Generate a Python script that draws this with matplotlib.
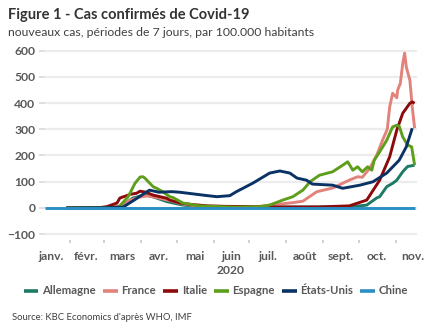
import matplotlib
matplotlib.use("Agg")
import matplotlib.pyplot as plt
import numpy as np

plt.rcParams['font.family'] = ['Lato', 'DejaVu Sans']

# day of year 2020 (0 = 1 Jan) and new cases per 100.000 (7 days)
allemagne_d = [28, 73, 81.5, 84, 90, 96, 102.5, 112.6, 126, 140, 216, 266, 280.7, 289, 291.6, 297.5, 302.5, 306, 311, 315, 321]
allemagne_v = [0, 2, 30, 38, 45, 48, 40, 24, 11, 5, 3, 4, 11, 38, 43, 81, 94, 106, 138, 158, 163]

france_d = [28, 60, 73, 82, 90, 96, 104, 115, 126, 140, 151, 170, 190, 207.6, 218, 227, 238.7, 252, 266, 273, 277, 283,
            289, 294, 298, 300, 302.5, 306, 306.7, 309, 311, 312.6, 314, 317, 319, 321]
france_v = [0, 1, 8, 30, 42, 46, 40, 28, 15, 7, 8, 4, 6, 15, 20, 26, 62, 76, 106, 119, 117, 150,
            200, 258, 300, 385, 437, 420, 449, 475, 551, 590, 537, 487, 385, 304]

italie_d = [28, 55, 62, 70.6, 73, 80, 81.5, 87, 90, 95, 101, 112.6, 115, 123.5, 132, 149, 200, 240, 266, 280.7, 291.6,
            300, 306, 311, 317, 319, 321]
italie_v = [0, 1, 5, 19, 38, 49, 52, 56, 64, 60, 49, 37, 30, 19, 14, 7, 4, 4, 8, 30, 106, 195, 297, 361, 399, 404, 399]

espagne_d = [28, 70, 73, 80, 85.7, 90, 92.4, 94, 101, 104, 109, 115, 117.6, 126, 140, 170, 191, 199, 210, 218.5, 227,
             233, 241, 252, 260.5, 264.7, 269, 273, 277, 281.5, 285, 287, 291.6, 297.5, 302.5, 306, 308, 311, 315,
             318.5, 321]
espagne_v = [0, 2, 8, 43, 94, 118, 119, 114, 81, 75, 62, 43, 40, 19, 8, 3, 5, 11, 30, 43, 68,
             100, 125, 138, 163, 176, 144, 157, 138, 157, 144, 182, 214, 258, 309, 315, 312, 271, 240,
             233, 163]

etats_unis_d = [28, 60, 75.6, 85, 95.8, 98, 106, 115, 117.6, 123.5, 143, 154.6, 165.5, 171, 185, 199, 207.6, 216, 222,
                230, 235, 252, 260.5, 275, 286, 297.5, 308, 314, 319]
etats_unis_v = [0, 1, 3, 30, 62, 68, 60, 62, 62, 60, 49, 43, 47, 62, 95, 133, 141, 133, 114,
                106, 91, 87, 75, 87, 100, 133, 182, 233, 304]

chine_d = [10, 321]
chine_v = [0, 0]

series = [
    ('Allemagne', allemagne_d, allemagne_v, '#1d7a64'),
    ('France', france_d, france_v, '#e2837b'),
    ('Italie', italie_d, italie_v, '#8c0a0a'),
    ('Espagne', espagne_d, espagne_v, '#5e9e1c'),
    ('États-Unis', etats_unis_d, etats_unis_v, '#0b3264'),
    ('Chine', chine_d, chine_v, '#2a8fc3'),
]

month_starts = [31, 60, 91, 121, 152, 182, 213, 244, 274, 305]
month_mids = [15.5, 45, 75.5, 106, 136.5, 167, 197.5, 228.5, 259, 289.5, 319.5]
month_labels = ['janv.', 'févr.', 'mars', 'avr.', 'mai', 'juin', 'juil.', 'août', 'sept.', 'oct.', 'nov.']

grey = '#595959'

fig = plt.figure(figsize=(4.32, 3.34), dpi=100)
ax = fig.add_axes([45 / 432, 1 - 240 / 334, 372 / 432, 190 / 334])

for name, d, v, c in series:
    ax.plot(d, v, color=c, lw=2.1, label=name, solid_capstyle='butt')

ax.set_xlim(10, 323)
ax.set_ylim(-122, 602)
ax.set_yticks([-100, 0, 100, 200, 300, 400, 500, 600])
ax.grid(axis='y', color='#ececec', lw=1.6)
ax.set_axisbelow(True)
for s in ax.spines.values():
    s.set_visible(False)

ax.tick_params(axis='y', length=4, width=1.2, color='#d9d9d9', pad=3,
               labelsize=8.7, labelcolor=grey)
for t in ax.get_yticklabels():
    t.set_fontweight('bold')

ax.set_xticks(month_starts, minor=True)
ax.set_xticks(month_mids)
ax.set_xticklabels(month_labels, fontsize=8.7, fontweight='bold', color=grey)
ax.tick_params(axis='x', which='major', length=0, pad=8)
ax.tick_params(axis='x', which='minor', length=2, width=1.2, color='#c8c8c8', direction='out')
ax.set_xlabel('2020', fontsize=8.7, fontweight='bold', color=grey, labelpad=2)

fig.text(8 / 432, 1 - 15 / 334, 'Figure 1 - Cas confirmés de Covid-19', fontsize=10.5,
         fontweight='bold', color='#333333', va='center', ha='left')
fig.text(8 / 432, 1 - 32 / 334, 'nouveaux cas, périodes de 7 jours, par 100.000 habitants',
         fontsize=8.8, color='#404040', va='center', ha='left')
fig.text(12 / 432, 1 - 317 / 334, "Source: KBC Economics d'après WHO, IMF", fontsize=6.8,
         color='#404040', va='center', ha='left')

leg = fig.legend(loc='center', bbox_to_anchor=(216 / 432, 1 - 291 / 334), ncol=6, frameon=False,
                 handlelength=1.3, handletextpad=0.35, columnspacing=0.6,
                 prop={'size': 8.2, 'weight': 'bold'})
for t in leg.get_texts():
    t.set_color(grey)
for l in leg.get_lines():
    l.set_linewidth(2.6)

fig.savefig('out.png', dpi=100)
